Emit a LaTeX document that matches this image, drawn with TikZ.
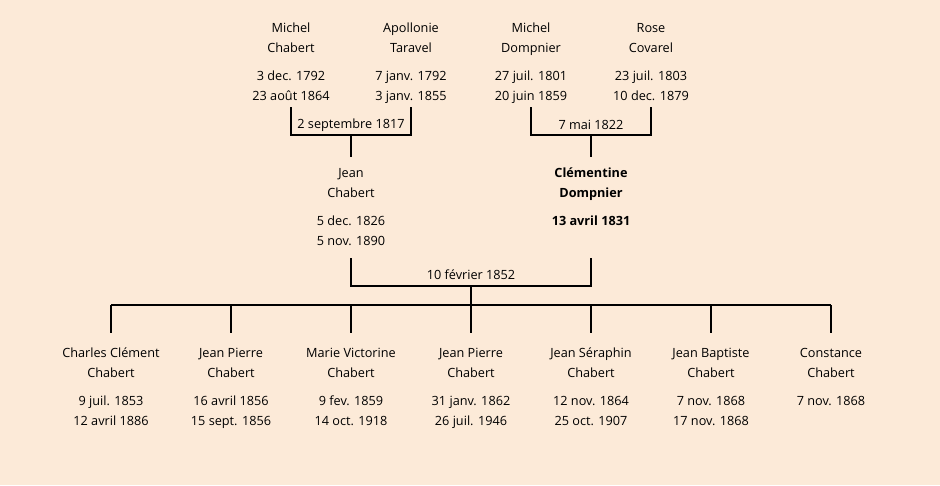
\documentclass[tikz,border=0pt]{standalone}
\usepackage{fontspec}
\setmainfont{Open Sans}
\definecolor{bgpeach}{RGB}{252,234,216}

\begin{document}
\begin{tikzpicture}[x=1pt,y=-1pt,
		person/.style={align=center, anchor=north, inner sep=0pt, outer sep=2pt,
			font=\fontsize{12.7}{20}\selectfont},
		bride/.style={person, font=\fontsize{12.7}{20}\selectfont\bfseries},
		wed/.style={inner sep=1pt, font=\fontsize{12.7}{14}\selectfont},
		link/.style={black, line width=2pt}]
		
		\fill[bgpeach] (0,0) rectangle (940,485);
		
		\node[person] (MC) at (291,16) {\strut Michel\\Chabert\\[8pt]3 dec. 1792\\23 août 1864};
		\node[person] (AT) at (411,16) {\strut Apollonie\\Taravel\\[8pt]7 janv. 1792\\3 janv. 1855};
		\node[person] (MD) at (531,16) {\strut Michel\\Dompnier\\[8pt]27 juil. 1801\\20 juin 1859};
		\node[person] (RC) at (651,16) {\strut Rose\\Covarel\\[8pt]23 juil. 1803\\10 dec. 1879};
		
		\node[person] (JC) at (351,161) {\strut Jean\\Chabert\\[8pt]5 dec. 1826\\5 nov. 1890};
		\node[bride] (CD) at (591,161) {\strut Clémentine\\Dompnier\\[8pt]13 avril 1831};
		
		\node[person] (C1) at (111,341) {\strut Charles Clément\\Chabert\\[8pt]9 juil. 1853\\12 avril 1886};
		\node[person] (C2) at (231,341) {\strut Jean Pierre\\Chabert\\[8pt]16 avril 1856\\15 sept. 1856};
		\node[person] (C3) at (351,341) {\strut Marie Victorine\\Chabert\\[8pt]9 fev. 1859\\14 oct. 1918};
		\node[person] (C4) at (471,341) {\strut Jean Pierre\\Chabert\\[8pt]31 janv. 1862\\26 juil. 1946};
		\node[person] (C5) at (591,341) {\strut Jean Séraphin\\Chabert\\[8pt]12 nov. 1864\\25 oct. 1907};
		\node[person] (C6) at (711,341) {\strut Jean Baptiste\\Chabert\\[8pt]7 nov. 1868\\17 nov. 1868};
		\node[person] (C7) at (831,341) {\strut Constance\\Chabert\\[8pt]7 nov. 1868};
		
		\coordinate (B1) at (351,107);
		\coordinate (W1) at (351,135);
		\coordinate (W2) at (591,135);
		\coordinate (T2) at (351,157);
		\coordinate (B3) at (471,258);
		\coordinate (W3) at (471,286);
		\coordinate (K) at (471,305);
		\coordinate (D) at (471,333);
		
		\draw[link] (MC.south |- B1) |- (W1) -| (AT.south |- B1);
		\draw[link] (MD.south |- B1) |- (W2) -| (RC.south |- B1);
		\draw[link] (W1) -- (JC.north |- T2);
		\draw[link] (W2) -- (CD.north |- T2);
		
		\draw[link] (JC.south |- B3) |- (W3) -| (CD.south |- B3);
		\draw[link] (W3) -- (K);
		\draw[link] (C1.north |- K) -- (C7.north |- K);
		\foreach \i in {1,...,7}
			\draw[link] (C\i.north |- K) -- (C\i.north |- D);
		
		\node[wed] (m1) at (351,125) {2 septembre 1817};
		\node[wed] (m2) at (591,125) {7 mai 1822};
		\node[wed] (m3) at (471,275) {10 février 1852};
	\end{tikzpicture}
\end{document}
